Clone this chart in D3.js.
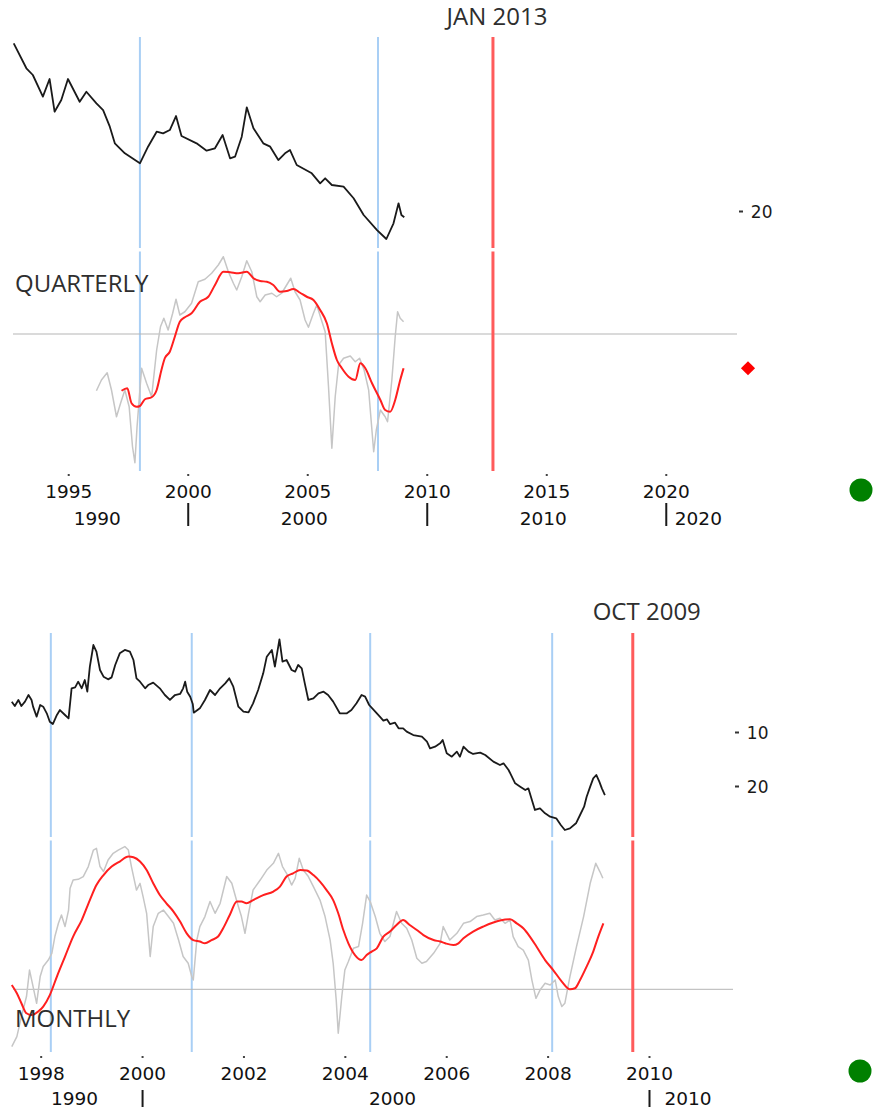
<!DOCTYPE html>
<html><head><meta charset="utf-8">
<script src="https://cdn.jsdelivr.net/npm/d3@7"></script>
<style>html,body{margin:0;padding:0;background:#fff}svg{display:block}</style>
</head><body>
<svg id="c" width="874" height="1111"></svg>
<script>
// ---------- QUARTERLY data ----------
const qLevelYears = [1992.72,1993.25,1993.52,1993.94,1994.22,1994.43,1994.71,1994.99,1995.48,1995.76,1996.18,1996.46,1996.74,1996.95,1997.37,1998.0,1998.34,1998.70,1998.97,1999.25,1999.51,1999.74,2000.37,2000.79,2001.14,2001.46,2001.77,2001.98,2002.26,2002.47,2002.75,2003.16,2003.45,2003.79,2004.07,2004.28,2004.56,2005.19,2005.54,2005.75,2006.03,2006.52,2006.94,2007.36,2007.92,2008.31,2008.61,2008.82,2008.94,2009.06];
const qLevelValues = [-0.96,2.16,3.0,5.71,3.5,7.59,6.13,3.5,6.34,5.09,6.54,7.38,9.46,11.54,12.79,14.04,11.96,10.09,10.29,9.88,8.13,10.63,11.54,12.46,12.16,10.5,13.41,13.21,10.71,7.04,9.66,11.54,11.96,13.63,12.79,12.38,14.25,15.29,16.54,15.91,16.75,16.96,18.41,20.5,22.38,23.5,21.54,19.04,20.5,20.79];
const qRawYears = [1996.18,1996.39,1996.63,1996.81,1997.02,1997.19,1997.37,1997.55,1997.69,1997.79,1997.88,1998.07,1998.28,1998.49,1998.70,1998.86,1999.0,1999.18,1999.37,1999.51,1999.67,1999.88,2000.16,2000.44,2000.72,2001.0,2001.28,2001.49,2001.70,2001.91,2002.05,2002.26,2002.47,2002.68,2002.89,2003.03,2003.24,2003.52,2003.72,2003.93,2004.14,2004.31,2004.49,2004.70,2004.91,2005.05,2005.26,2005.40,2005.57,2005.75,2005.89,2006.03,2006.17,2006.31,2006.52,2006.80,2007.01,2007.19,2007.38,2007.57,2007.78,2007.89,2008.06,2008.26,2008.36,2008.54,2008.68,2008.78,2008.89,2009.03];
const qRawValues = [-2.27,-1.84,-1.55,-2.24,-3.31,-2.77,-2.24,-2.91,-4.51,-5.15,-3.71,-1.37,-1.97,-2.51,-0.64,0.29,0.63,0.16,0.83,1.39,0.76,0.89,1.23,2.09,2.19,2.43,2.76,3.09,2.49,2.03,1.76,2.29,2.93,2.49,1.49,1.29,1.56,1.63,1.49,1.63,1.96,2.23,1.69,1.36,0.56,0.27,0.83,1.16,0.63,0.09,-2.11,-4.57,-2.51,-1.24,-0.97,-0.88,-1.11,-0.97,-1.44,-2.24,-4.71,-3.84,-3.04,-3.31,-3.51,-1.84,-0.11,0.89,0.63,0.49];
const qSmoothYears = [1997.23,1997.47,1997.65,1997.86,1998.0,1998.21,1998.49,1998.70,1998.90,1999.04,1999.25,1999.46,1999.67,1999.88,2000.16,2000.51,2000.86,2001.14,2001.49,2001.77,2002.12,2002.47,2002.75,2003.03,2003.31,2003.58,2003.86,2004.14,2004.42,2004.70,2004.98,2005.26,2005.54,2005.82,2006.03,2006.24,2006.45,2006.73,2007.01,2007.22,2007.43,2007.71,2008.06,2008.26,2008.47,2008.68,2008.89,2009.03];
const qSmoothValues = [-2.27,-2.17,-2.77,-2.91,-2.88,-2.61,-2.53,-2.24,-1.44,-0.97,-0.71,-0.11,0.49,0.67,0.83,1.29,1.49,1.96,2.49,2.47,2.43,2.49,2.23,2.12,2.09,1.96,1.69,1.72,1.80,1.65,1.49,1.36,0.96,0.43,-0.37,-1.04,-1.37,-1.71,-1.84,-1.17,-1.37,-1.97,-2.64,-3.04,-3.11,-2.64,-1.84,-1.37];
const qBlueYears = [1998.0, 2007.96];
const qMarkerYear = 2012.77;
const qMarkerLabel = "JAN 2013";
const qTickYears = [1995, 2000, 2005, 2010, 2015, 2020];
const qDecadeTicks = [2000, 2010, 2020];
const qDecadeLabels = [1990, 2000, 2010, 2020];
const qLevelTicks = [20];

// ---------- MONTHLY data ----------
const mLevelYears = [1997.43,1997.49,1997.56,1997.62,1997.69,1997.76,1997.82,1997.85,1997.92,1997.99,1998.05,1998.12,1998.18,1998.24,1998.32,1998.38,1998.48,1998.55,1998.61,1998.68,1998.74,1998.81,1998.87,1998.92,1998.97,1999.04,1999.10,1999.17,1999.24,1999.33,1999.40,1999.47,1999.56,1999.66,1999.76,1999.83,1999.89,1999.96,2000.06,2000.12,2000.22,2000.35,2000.45,2000.55,2000.65,2000.75,2000.81,2000.85,2000.89,2000.95,2001.0,2001.02,2001.14,2001.24,2001.34,2001.44,2001.54,2001.64,2001.72,2001.80,2001.90,2002.0,2002.10,2002.19,2002.29,2002.39,2002.46,2002.56,2002.62,2002.71,2002.77,2002.85,2002.95,2003.02,2003.08,2003.15,2003.21,2003.28,2003.38,2003.48,2003.58,2003.67,2003.77,2003.90,2004.04,2004.13,2004.23,2004.33,2004.40,2004.48,2004.60,2004.69,2004.76,2004.83,2004.89,2004.99,2005.06,2005.15,2005.22,2005.35,2005.52,2005.62,2005.68,2005.78,2005.88,2005.93,2006.01,2006.11,2006.21,2006.27,2006.34,2006.44,2006.53,2006.67,2006.77,2006.93,2007.06,2007.13,2007.23,2007.36,2007.46,2007.56,2007.62,2007.69,2007.75,2007.85,2007.95,2008.05,2008.17,2008.26,2008.34,2008.44,2008.56,2008.64,2008.72,2008.77,2008.84,2008.90,2008.96,2009.02,2009.07,2009.13];
const mLevelValues = [4.38,5.19,4.07,5.19,4.38,3.15,4.07,5.31,7.16,5.0,5.31,6.54,8.09,8.52,6.85,5.93,6.85,7.47,1.91,1.73,0.68,1.91,0.37,2.53,-2.1,-6.11,-4.88,-1.48,-0.25,0.25,-0.12,-2.41,-4.57,-5.19,-4.88,-3.33,0.06,0.68,1.91,1.30,0.86,1.91,3.15,4.07,3.15,2.96,1.91,0.68,2.53,3.46,4.81,6.42,5.62,4.07,2.22,3.15,1.91,0.99,0.06,1.61,5.31,6.24,6.36,4.69,2.22,-0.86,-3.95,-5.19,-2.1,-7.16,-3.02,-3.33,-1.48,-1.17,-2.41,-1.79,0.99,4.07,3.77,2.84,2.53,3.15,4.38,6.54,6.54,5.93,4.69,3.15,3.46,5.0,6.24,7.16,7.90,7.65,8.52,8.27,9.32,9.32,9.94,10.56,10.86,11.79,13.02,12.72,12.10,11.48,13.95,14.57,13.64,14.57,12.72,13.64,14.07,13.83,14.26,15.49,16.11,15.80,17.04,19.51,20.12,20.74,20.43,22.59,24.44,24.14,25.06,25.68,25.99,27.22,28.15,27.84,26.91,25.37,23.83,21.98,20.12,18.58,17.96,19.20,20.43,21.67];
const mRawYears = [1997.43,1997.53,1997.62,1997.72,1997.78,1997.85,1997.92,1997.99,1998.05,1998.15,1998.22,1998.28,1998.35,1998.41,1998.48,1998.55,1998.58,1998.64,1998.74,1998.84,1998.94,1999.04,1999.10,1999.17,1999.24,1999.33,1999.43,1999.53,1999.66,1999.73,1999.79,1999.89,1999.96,2000.02,2000.09,2000.16,2000.22,2000.32,2000.42,2000.52,2000.62,2000.72,2000.81,2000.91,2000.98,2001.01,2001.08,2001.14,2001.24,2001.34,2001.44,2001.54,2001.67,2001.77,2001.87,2001.96,2002.03,2002.10,2002.19,2002.33,2002.46,2002.59,2002.69,2002.77,2002.85,2002.95,2003.02,2003.10,2003.18,2003.28,2003.38,2003.51,2003.61,2003.71,2003.77,2003.83,2003.87,2003.94,2004.0,2004.07,2004.17,2004.27,2004.35,2004.43,2004.50,2004.60,2004.69,2004.79,2004.89,2005.02,2005.12,2005.22,2005.32,2005.42,2005.52,2005.61,2005.75,2005.88,2005.94,2006.07,2006.21,2006.34,2006.47,2006.60,2006.73,2006.86,2006.96,2007.06,2007.16,2007.26,2007.32,2007.42,2007.52,2007.62,2007.69,2007.77,2007.85,2007.95,2008.05,2008.15,2008.21,2008.28,2008.34,2008.44,2008.57,2008.71,2008.84,2008.95,2009.03,2009.09];
const mRawValues = [-2.29,-1.89,-1.09,-0.29,0.77,0.11,-0.56,0.51,0.91,1.17,1.44,2.11,2.64,2.97,2.51,3.17,4.04,4.37,4.40,4.51,4.91,5.57,5.64,4.91,4.71,5.17,5.44,5.57,5.71,5.57,4.91,3.97,4.24,3.71,3.04,1.31,2.51,3.04,3.17,2.91,2.64,1.97,1.31,1.04,0.51,0.37,1.97,2.51,2.91,3.51,3.04,3.44,4.51,4.24,3.51,2.91,2.24,3.04,3.97,4.37,4.77,5.04,5.44,4.91,4.64,4.17,4.44,5.24,4.77,4.51,4.11,3.57,2.91,1.97,1.04,-0.43,-1.76,-0.29,0.77,1.11,1.64,1.71,2.64,3.77,3.51,2.91,2.24,1.91,2.11,3.11,2.64,2.44,1.97,1.24,1.04,1.11,1.44,1.84,2.51,1.97,2.24,2.64,2.71,2.91,2.97,3.04,2.77,2.84,2.64,2.77,2.11,1.71,1.57,1.17,0.37,-0.36,-0.03,0.24,0.17,0.37,-0.29,-0.69,-0.56,0.51,1.71,2.91,4.24,5.04,4.71,4.44];
const mSmoothYears = [1997.43,1997.53,1997.62,1997.72,1997.82,1997.95,1998.05,1998.18,1998.32,1998.48,1998.64,1998.81,1998.97,1999.10,1999.24,1999.40,1999.56,1999.73,1999.83,1999.96,2000.09,2000.22,2000.35,2000.48,2000.62,2000.75,2000.88,2001.01,2001.14,2001.24,2001.37,2001.50,2001.60,2001.73,2001.87,2001.96,2002.06,2002.19,2002.39,2002.59,2002.72,2002.85,2002.98,2003.12,2003.25,2003.38,2003.51,2003.64,2003.77,2003.87,2003.97,2004.07,2004.20,2004.33,2004.43,2004.53,2004.63,2004.76,2004.89,2005.02,2005.15,2005.28,2005.42,2005.55,2005.75,2005.88,2005.98,2006.14,2006.24,2006.34,2006.53,2006.73,2006.93,2007.06,2007.26,2007.39,2007.52,2007.65,2007.78,2007.95,2008.11,2008.28,2008.44,2008.54,2008.64,2008.77,2008.90,2009.0,2009.10];
const mSmoothValues = [0.17,-0.16,-0.56,-0.96,-1.03,-0.89,-0.69,-0.23,0.51,1.31,2.11,2.77,3.57,4.17,4.57,4.91,5.11,5.31,5.28,5.11,4.77,4.24,3.77,3.44,3.11,2.71,2.24,1.97,1.91,1.84,1.97,2.11,2.44,2.97,3.51,3.51,3.44,3.57,3.77,3.91,4.11,4.51,4.64,4.77,4.75,4.57,4.31,3.97,3.57,3.04,2.37,1.84,1.37,1.17,1.37,1.51,1.64,2.11,2.31,2.57,2.77,2.57,2.37,2.17,1.97,1.91,1.84,1.77,1.84,2.04,2.31,2.51,2.67,2.75,2.80,2.64,2.44,2.11,1.71,1.17,0.77,0.31,0.0,0.04,0.37,0.91,1.51,2.11,2.64];
const mBlueYears = [1998.2, 2000.98, 2004.5, 2008.09];
const mMarkerYear = 2009.68;
const mMarkerLabel = "OCT 2009";
const mTickYears = [1998, 2000, 2002, 2004, 2006, 2008, 2010];
const mDecadeTicks = [2000, 2010];
const mDecadeLabels = [1990, 2000, 2010];
const mLevelTicks = [10, 20];

// ---------- drawing ----------
const svg = d3.select('#c');
const C = {black:'#1a1a1a', gray:'#c6c6c6', red:'#ff1f1f', blue:'#a9cff5', marker:'#ff5b5b', zero:'#b5b5b5', text:'#2e2e2e', green:'#008000'};

function drawPanel(p) {
  const x = d3.scaleLinear().domain(p.xDomain).range(p.xRange);
  const yL = d3.scaleLinear().domain(p.levelDomain).range(p.levelRange);
  const yO = d3.scaleLinear().domain([0, 1]).range([p.zeroY, p.zeroY - 25]);
  const g = svg.append('g');
  const segs = [p.upper, p.lower];

  // vertical blue markers
  p.blueYears.forEach(yr => segs.forEach(s => {
    g.append('line').attr('x1', x(yr)).attr('x2', x(yr)).attr('y1', s[0]).attr('y2', s[1])
      .attr('stroke', C.blue).attr('stroke-width', 2);
  }));
  // zero line
  g.append('line').attr('x1', p.xRange[0]).attr('x2', p.xRange[1]).attr('y1', yO(0)).attr('y2', yO(0))
    .attr('stroke', C.zero).attr('stroke-width', 1);
  // red current-date marker
  segs.forEach(s => {
    g.append('line').attr('x1', x(p.markerYear)).attr('x2', x(p.markerYear)).attr('y1', s[0]).attr('y2', s[1])
      .attr('stroke', C.marker).attr('stroke-width', 3);
  });
  g.append('text').attr('x', x(p.markerYear) + p.markerDx).attr('y', p.markerBaseline)
    .attr('text-anchor', 'middle').attr('font-family', 'Open Sans').attr('font-size', 24)
    .attr('fill', C.text).text(p.markerLabel);

  const lineL = d3.line().x(d => x(d[0])).y(d => yL(d[1]));
  const lineO = d3.line().x(d => x(d[0])).y(d => yO(d[1]));
  const lineS = d3.line().x(d => x(d[0])).y(d => yO(d[1])).curve(d3.curveMonotoneX);

  g.append('path').datum(d3.zip(p.rawYears, p.rawValues)).attr('d', lineO)
    .attr('fill', 'none').attr('stroke', C.gray).attr('stroke-width', 1.5).attr('stroke-linejoin', 'round');
  g.append('path').datum(d3.zip(p.smoothYears, p.smoothValues)).attr('d', lineS)
    .attr('fill', 'none').attr('stroke', C.red).attr('stroke-width', 2).attr('stroke-linejoin', 'round');
  g.append('path').datum(d3.zip(p.levelYears, p.levelValues)).attr('d', lineL)
    .attr('fill', 'none').attr('stroke', C.black).attr('stroke-width', 1.8).attr('stroke-linejoin', 'round');

  // title
  g.append('text').attr('x', 15).attr('y', p.titleBaseline).attr('font-family', 'Open Sans')
    .attr('font-size', 24).attr('fill', C.text).text(p.title);

  // right level axis
  const ra = d3.axisRight(yL).tickValues(p.levelTicks).tickSize(4).tickFormat(d3.format('d'));
  const rg = svg.append('g').attr('transform', `translate(${p.axisX},0)`).call(ra);
  rg.select('.domain').remove();
  rg.selectAll('.tick line').attr('stroke', '#333').attr('stroke-width', 2);
  rg.selectAll('.tick text').attr('x', 33.5).attr('text-anchor', 'end').attr('dy', '0.36em')
    .attr('font-family', 'DejaVu Sans').attr('font-size', 17).attr('fill', '#1a1a1a');

  // latest-value diamond
  if (p.diamond) {
    const last = p.smoothValues[p.smoothValues.length - 1];
    g.append('path').attr('d', d3.symbol(d3.symbolSquare, 100)())
      .attr('transform', `translate(${p.xRange[1] + 11},${yO(last)}) rotate(45)`).attr('fill', '#ff0000');
  }

  // year axis
  const ax = d3.axisBottom(x).tickValues(p.tickYears).tickSize(2).tickFormat(d3.format('d'));
  const ag = svg.append('g').attr('transform', `translate(0,${p.dotY})`).call(ax);
  ag.select('.domain').remove();
  ag.selectAll('.tick line').attr('stroke', '#444').attr('stroke-width', 2);
  ag.selectAll('.tick text').attr('y', p.labelBaseline - p.dotY).attr('dy', 0)
    .attr('font-family', 'DejaVu Sans').attr('font-size', 18.5).attr('fill', '#111');

  // decade axis
  const dax = d3.axisBottom(x).tickValues(p.decadeTicks).tickSize(p.decadeLen).tickFormat('');
  const dg = svg.append('g').attr('transform', `translate(0,${p.decadeTop})`).call(dax);
  dg.select('.domain').remove();
  dg.selectAll('.tick line').attr('stroke', '#1a1a1a').attr('stroke-width', 2);
  const [d0, d1] = p.xDomain;
  p.decadeLabels.forEach(dec => {
    const a = Math.max(dec, d0), b = Math.min(dec + 10, d1);
    const mid = (x(a) + x(b)) / 2 - 3;
    svg.append('text').attr('x', mid).attr('y', p.decadeBaseline).attr('text-anchor', 'middle')
      .attr('font-family', 'DejaVu Sans').attr('font-size', 18.5).attr('fill', '#111').text(dec);
  });

  // green status dot
  svg.append('circle').attr('cx', p.dot[0]).attr('cy', p.dot[1]).attr('r', 11.5).attr('fill', C.green);
}

drawPanel({
  xDomain: [1992.69, 2022.98], xRange: [13, 737],
  levelDomain: [0, 20], levelRange: [51, 211], zeroY: 334,
  upper: [37, 248], lower: [251.5, 471],
  levelYears: qLevelYears, levelValues: qLevelValues,
  rawYears: qRawYears, rawValues: qRawValues,
  smoothYears: qSmoothYears, smoothValues: qSmoothValues,
  blueYears: qBlueYears, markerYear: qMarkerYear, markerLabel: qMarkerLabel,
  markerDx: 4, markerBaseline: 25,
  title: 'QUARTERLY', titleBaseline: 291.5,
  levelTicks: qLevelTicks, axisX: 739, diamond: true,
  tickYears: qTickYears, dotY: 474, labelBaseline: 498,
  decadeTicks: qDecadeTicks, decadeLabels: qDecadeLabels,
  decadeTop: 503, decadeLen: 23, decadeBaseline: 525,
  dot: [861, 490]
});

drawPanel({
  xDomain: [1997.454, 2011.657], xRange: [13, 733],
  levelDomain: [10, 20], levelRange: [732, 786], zeroY: 989.3,
  upper: [633, 837], lower: [840.5, 1052],
  levelYears: mLevelYears, levelValues: mLevelValues,
  rawYears: mRawYears, rawValues: mRawValues,
  smoothYears: mSmoothYears, smoothValues: mSmoothValues,
  blueYears: mBlueYears, markerYear: mMarkerYear, markerLabel: mMarkerLabel,
  markerDx: 14, markerBaseline: 620,
  title: 'MONTHLY', titleBaseline: 1026.5,
  levelTicks: mLevelTicks, axisX: 735, diamond: false,
  tickYears: mTickYears, dotY: 1056, labelBaseline: 1080,
  decadeTicks: mDecadeTicks, decadeLabels: mDecadeLabels,
  decadeTop: 1090, decadeLen: 17, decadeBaseline: 1105,
  dot: [860, 1071]
});
</script>
</body></html>
